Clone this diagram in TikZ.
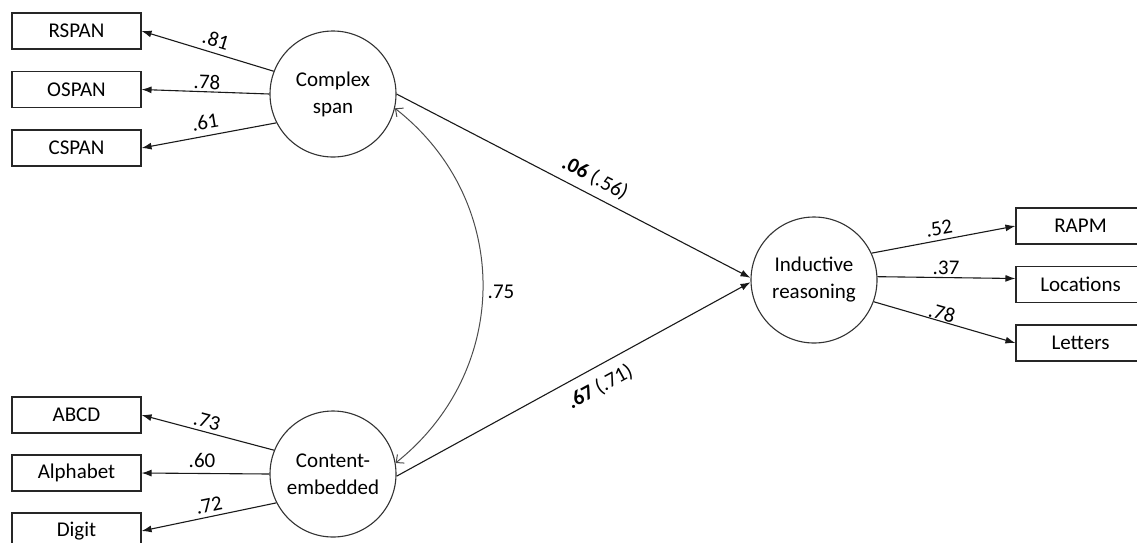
\documentclass[tikz,border=0pt]{standalone}
\usepackage{fontspec}
\setmainfont{Carlito}
\usetikzlibrary{arrows.meta}
\begin{document}
\begin{tikzpicture}[x=1pt,y=-1pt,
  every node/.style={font=\fontsize{21}{27}\selectfont},
  obsbox/.style={draw=black!85, line width=1.1pt, minimum width=129pt, minimum height=36pt, inner sep=0pt},
  latent/.style={draw=black!80, line width=1.1pt, circle, minimum size=126pt, inner sep=0pt, align=center},
  load/.style={line width=1.1pt, draw=black!90, -{Latex[length=10pt,width=7pt]}},
  corr/.style={line width=1pt, draw=black!70, {Straight Barb[length=6pt,width=11pt]}-{Straight Barb[length=6pt,width=11pt]}},
  lbl/.style={inner sep=0pt},
]
\useasboundingbox (0,0) rectangle (1137,542);
% latent variables
\node[latent] (cs) at (333,94) {Complex\\span};
\node[latent] (ce) at (333,474) {Content-\\embedded};
\node[latent] (ir) at (814,280) {Inductive\\reasoning};
% observed left top
\node[obsbox] (rspan) at (76.5,31) {RSPAN};
\node[obsbox] (ospan) at (76.5,89.5) {OSPAN};
\node[obsbox] (cspan) at (76.5,148) {CSPAN};
% observed left bottom
\node[obsbox] (abcd) at (76.5,415) {ABCD};
\node[obsbox] (alpha) at (76.5,473) {Alphabet};
\node[obsbox] (digit) at (76.5,531) {Digit};
% observed right
\node[obsbox] (rapm) at (1080.5,226) {RAPM};
\node[obsbox] (loc) at (1080.5,284.5) {Locations};
\node[obsbox] (let) at (1080.5,343) {Letters};
% loadings
\draw[load] (cs.159) -- (rspan.east);
\draw[load] (cs.west) -- (ospan.east);
\draw[load] (cs.207) -- (cspan.east);
\draw[load] (ce.158) -- (abcd.east);
\draw[load] (ce.west) -- (alpha.east);
\draw[load] (ce.207) -- (digit.east);
\draw[load] (ir.25) -- (rapm.west);
\draw[load] (ir.3) -- ([yshift=6pt]loc.west);
\draw[load] (ir.340) -- (let.west);
% structural paths
\draw[load] (cs.east) -- (ir.178);
\draw[load] (ce.358) -- (ir.182);
% correlation
\draw[corr] (cs.347) .. controls (512,200) and (512,370) .. (ce.10);
% labels
\node[lbl, rotate=-17] at (216,40) {.81};
\node[lbl, rotate=-2] at (207,82) {.78};
\node[lbl, rotate=9.5] at (205,122) {.61};
\node[lbl, rotate=-15] at (207,421) {.73};
\node[lbl] at (202,460) {.60};
\node[lbl, rotate=11.6] at (209,505) {.72};
\node[lbl, rotate=10.3] at (939,228) {.52};
\node[lbl, rotate=-1] at (946,268) {.37};
\node[lbl, rotate=-16] at (942,313) {.78};
\node[lbl] at (501,292) {.75};
\node[lbl, rotate=-27.3] at (595,178) {\textbf{.06} (.56)};
\node[lbl, rotate=28.6] at (600,387) {\textbf{.67} (.71)};
\end{tikzpicture}
\end{document}
